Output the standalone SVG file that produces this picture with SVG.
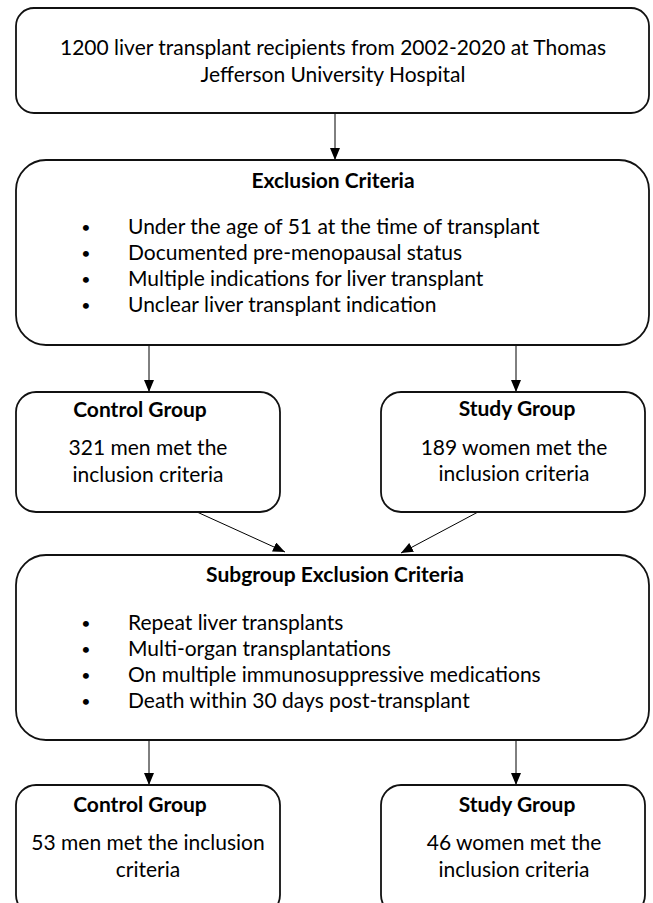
<svg xmlns="http://www.w3.org/2000/svg" width="653" height="903" viewBox="0 0 653 903">
<defs>
<marker id="ah" markerWidth="12" markerHeight="10" refX="12" refY="5" orient="auto" markerUnits="userSpaceOnUse">
<path d="M0,0 L12,5 L0,10 Z" fill="#000"/>
</marker>
<style>
.box{fill:#fff;stroke:#111;stroke-width:1.8}
text{font-family:Lato,"Liberation Sans",sans-serif;font-size:21px;fill:#000}
.c{text-anchor:middle}
.b{font-weight:bold}
.d{text-anchor:middle;font-size:16px}
.con{stroke:#000;stroke-width:1;fill:none;marker-end:url(#ah)}
</style>
</defs>
<rect width="653" height="903" fill="#fff"/>
<g id="connectors">
<line class="con" x1="335" y1="113" x2="335" y2="160"/>
<line class="con" x1="149" y1="345" x2="149" y2="392"/>
<line class="con" x1="516" y1="345" x2="516" y2="392"/>
<line class="con" x1="197" y1="512" x2="285" y2="552"/>
<line class="con" x1="478" y1="512" x2="401" y2="553"/>
<line class="con" x1="149" y1="740" x2="149" y2="785"/>
<line class="con" x1="516" y1="740" x2="516" y2="785"/>
</g>
<g id="n1">
<rect class="box" x="16" y="8" width="633" height="105" rx="18"/>
<text class="c" x="333" y="55">1200 liver transplant recipients from 2002-2020 at Thomas</text>
<text class="c" x="333" y="82">Jefferson University Hospital</text>
</g>
<g id="n2">
<rect class="box" x="16" y="160" width="633" height="185" rx="30"/>
<text class="c b" x="333" y="188">Exclusion Criteria</text>
<text class="d" x="86" y="233">•</text><text x="128" y="234">Under the age of 51 at the time of transplant</text>
<text class="d" x="86" y="259">•</text><text x="128" y="260">Documented pre-menopausal status</text>
<text class="d" x="86" y="285">•</text><text x="128" y="286">Multiple indications for liver transplant</text>
<text class="d" x="86" y="311">•</text><text x="128" y="312">Unclear liver transplant indication</text>
</g>
<g id="n3">
<rect class="box" x="16" y="392" width="264" height="120" rx="20"/>
<text class="c b" x="140" y="417">Control Group</text>
<text class="c" x="148" y="455">321 men met the</text>
<text class="c" x="148" y="482">inclusion criteria</text>
</g>
<g id="n4">
<rect class="box" x="381" y="392" width="264" height="120" rx="20"/>
<text class="c b" x="517" y="416">Study Group</text>
<text class="c" x="514" y="455">189 women met the</text>
<text class="c" x="514" y="481">inclusion criteria</text>
</g>
<g id="n5">
<rect class="box" x="16" y="555" width="633" height="185" rx="30"/>
<text class="c b" x="335" y="582">Subgroup Exclusion Criteria</text>
<text class="d" x="86" y="629">•</text><text x="128" y="630">Repeat liver transplants</text>
<text class="d" x="86" y="655">•</text><text x="128" y="656">Multi-organ transplantations</text>
<text class="d" x="86" y="681">•</text><text x="128" y="682">On multiple immunosuppressive medications</text>
<text class="d" x="86" y="707">•</text><text x="128" y="708">Death within 30 days post-transplant</text>
</g>
<g id="n6">
<rect class="box" x="16" y="785" width="264" height="130" rx="20"/>
<text class="c b" x="140" y="812">Control Group</text>
<text class="c" x="148" y="850">53 men met the inclusion</text>
<text class="c" x="148" y="877">criteria</text>
</g>
<g id="n7">
<rect class="box" x="381" y="785" width="264" height="130" rx="20"/>
<text class="c b" x="517" y="812">Study Group</text>
<text class="c" x="514" y="850">46 women met the</text>
<text class="c" x="514" y="877">inclusion criteria</text>
</g>
</svg>
